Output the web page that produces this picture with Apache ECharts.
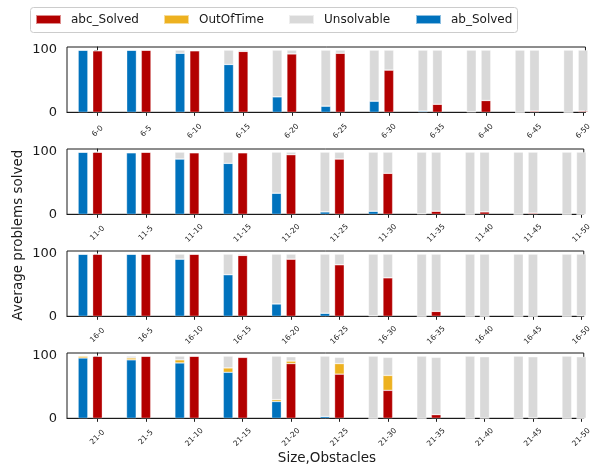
<!DOCTYPE html>
<html>
<head>
<meta charset="utf-8">
<script src="https://cdn.jsdelivr.net/npm/echarts@6/dist/echarts.min.js"></script>
<style>
  html, body { margin: 0; padding: 0; background: #fff; }
  #chart { width: 594px; height: 468px; }
</style>
</head>
<body>
<div id="chart"></div>
<script>
const sizes = ['6', '11', '16', '21'];
const obstacles = ['0', '5', '10', '15', '20', '25', '30', '35', '40', '45', '50'];

// one row per size, one value per obstacle count
const abSolved = [
  [100, 100, 95, 77, 25, 10, 18, 2, 1, 0, 0],
  [100, 99, 89, 82, 34, 4, 5, 1, 0, 0, 0],
  [100, 100, 92, 67, 20, 5, 1, 0, 0, 0, 0],
  [97, 94, 89, 74, 27, 3, 0, 0, 0, 0, 0]
];
const abOutOfTime = [
  [0, 0, 0, 0, 0, 0, 0, 0, 0, 0, 0],
  [0, 0, 0, 0, 0, 0, 0, 0, 0, 0, 0],
  [0, 0, 0, 0, 0, 0, 0, 0, 0, 0, 0],
  [3, 3, 5, 7, 3, 0, 0, 0, 0, 0, 0]
];
const abUnsolvable = [
  [0, 0, 5, 23, 75, 90, 82, 98, 99, 100, 100],
  [0, 1, 11, 18, 66, 96, 95, 99, 100, 100, 100],
  [0, 0, 8, 33, 80, 95, 99, 100, 100, 100, 100],
  [0, 3, 6, 19, 70, 97, 100, 100, 100, 100, 100]
];
const abcSolved = [
  [99, 100, 99, 98, 94, 95, 68, 13, 19, 2, 2],
  [100, 100, 99, 99, 96, 89, 66, 5, 4, 2, 0],
  [100, 100, 100, 98, 92, 83, 62, 8, 0, 0, 1],
  [100, 100, 100, 98, 88, 71, 45, 6, 0.5, 1, 0]
];
const abcOutOfTime = [
  [0, 0, 0, 0, 0, 0, 0, 0, 0, 0, 0],
  [0, 0, 0, 0, 0, 0, 0, 0, 0, 0, 0],
  [0, 0, 0, 0, 0, 0, 0, 0, 0, 0, 0],
  [0, 0, 0, 1, 4, 17, 24, 0, 0, 0, 0]
];
const abcUnsolvable = [
  [1, 0, 1, 2, 6, 5, 32, 87, 81, 98, 98],
  [0, 0, 1, 1, 4, 11, 34, 95, 96, 98, 100],
  [0, 0, 0, 2, 8, 17, 38, 92, 100, 100, 99],
  [0, 0, 0, 1, 7, 10, 29, 92, 98.5, 98, 99]
];
const yTicks = [0, 100];
const legendNames = ['abc_Solved', 'OutOfTime', 'Unsolvable', 'ab_Solved'];

const colors = {
  abc_Solved: '#b30000',
  OutOfTime: '#edb120',
  Unsolvable: '#d9d9d9',
  ab_Solved: '#0072bd'
};
const font = 'DejaVu Sans';
const gridTops = [47, 149, 251, 353];
const gridHeight = 65.3;
const abShift = -0.3;
const legendLefts = [35, 163, 288, 415];

const chart = echarts.init(document.getElementById('chart'), null, { renderer: 'canvas' });

let grids = [], xAxes = [], yAxes = [], series = [];

// value first, position second, so the stack runs on the y value
function barSeries(name, values, shift, stack, xIdx, yIdx) {
  return {
    name: name,
    type: 'bar',
    stack: stack,
    xAxisIndex: xIdx,
    yAxisIndex: yIdx,
    barWidth: 9.7,
    encode: { x: 1, y: 0 },
    itemStyle: { color: colors[name], borderColor: 'rgba(255,255,255,0.55)', borderWidth: 0.6 },
    data: values.map((v, i) => [v, i + shift])
  };
}

sizes.forEach((size, g) => {
  grids.push({
    left: 67, right: 6.7, top: gridTops[g], height: gridHeight,
    show: true, borderColor: '#1a1a1a', borderWidth: 1, backgroundColor: 'transparent'
  });
  // hidden axis that carries the ab bars
  xAxes.push({ type: 'value', gridIndex: g, min: -0.63, max: 10.05, show: false });
  // visible axis with the labels, carries the abc bars
  xAxes.push({
    type: 'value', gridIndex: g, min: -0.63, max: 10.05, position: 'bottom',
    splitLine: { show: false },
    axisLine: { show: true, onZero: false, lineStyle: { color: '#1a1a1a', width: 1 } },
    axisTick: { show: true, length: 3.5, lineStyle: { color: '#1a1a1a' }, customValues: obstacles.map((o, i) => i) },
    axisLabel: {
      customValues: obstacles.map((o, i) => i),
      formatter: v => size + '-' + obstacles[Math.round(v)],
      rotate: 45, align: 'center', verticalAlign: 'middle', margin: 19,
      fontSize: 7.5, fontFamily: font, color: '#1a1a1a'
    }
  });
  yAxes.push({
    type: 'value', gridIndex: g, min: 0, max: 105,
    splitLine: { show: false },
    axisLine: { show: true, lineStyle: { color: '#1a1a1a', width: 1 } },
    axisTick: { show: true, length: 3.5, lineStyle: { color: '#1a1a1a' }, customValues: yTicks },
    axisLabel: { customValues: yTicks, margin: 10, fontSize: 13, fontFamily: font, color: '#1a1a1a' }
  });
  series.push(barSeries('ab_Solved', abSolved[g], abShift, 'ab' + g, 2 * g, g));
  series.push(barSeries('OutOfTime', abOutOfTime[g], abShift, 'ab' + g, 2 * g, g));
  series.push(barSeries('Unsolvable', abUnsolvable[g], abShift, 'ab' + g, 2 * g, g));
  series.push(barSeries('abc_Solved', abcSolved[g], 0, 'abc' + g, 2 * g + 1, g));
  series.push(barSeries('OutOfTime', abcOutOfTime[g], 0, 'abc' + g, 2 * g + 1, g));
  series.push(barSeries('Unsolvable', abcUnsolvable[g], 0, 'abc' + g, 2 * g + 1, g));
});

// one legend per entry so each sits where the reference has it
const legends = legendNames.map((name, k) => ({
  data: [name],
  left: legendLefts[k], top: 12.5,
  padding: 0,
  itemWidth: 25, itemHeight: 9,
  icon: 'rect',
  textStyle: { fontFamily: font, fontSize: 12, lineHeight: 14, color: '#1a1a1a', padding: [0, 0, 0, 5] }
}));

chart.setOption({
  animation: false,
  backgroundColor: '#ffffff',
  legend: legends,
  grid: grids,
  xAxis: xAxes,
  yAxis: yAxes,
  series: series,
  graphic: [
    {
      type: 'rect', shape: { x: 30.5, y: 7.5, width: 487, height: 25, r: 3 },
      style: { fill: 'rgba(255,255,255,0.8)', stroke: '#cccccc', lineWidth: 1 }, z: -1
    },
    {
      type: 'text', x: 18, y: 235, rotation: Math.PI / 2,
      style: { text: 'Average problems solved', fontFamily: font, fontSize: 13.5, fill: '#1a1a1a', align: 'center', verticalAlign: 'middle' }
    },
    {
      type: 'text', x: 327, y: 458,
      style: { text: 'Size,Obstacles', fontFamily: font, fontSize: 13.5, fill: '#1a1a1a', align: 'center', verticalAlign: 'middle' }
    }
  ]
});
</script>
</body>
</html>
